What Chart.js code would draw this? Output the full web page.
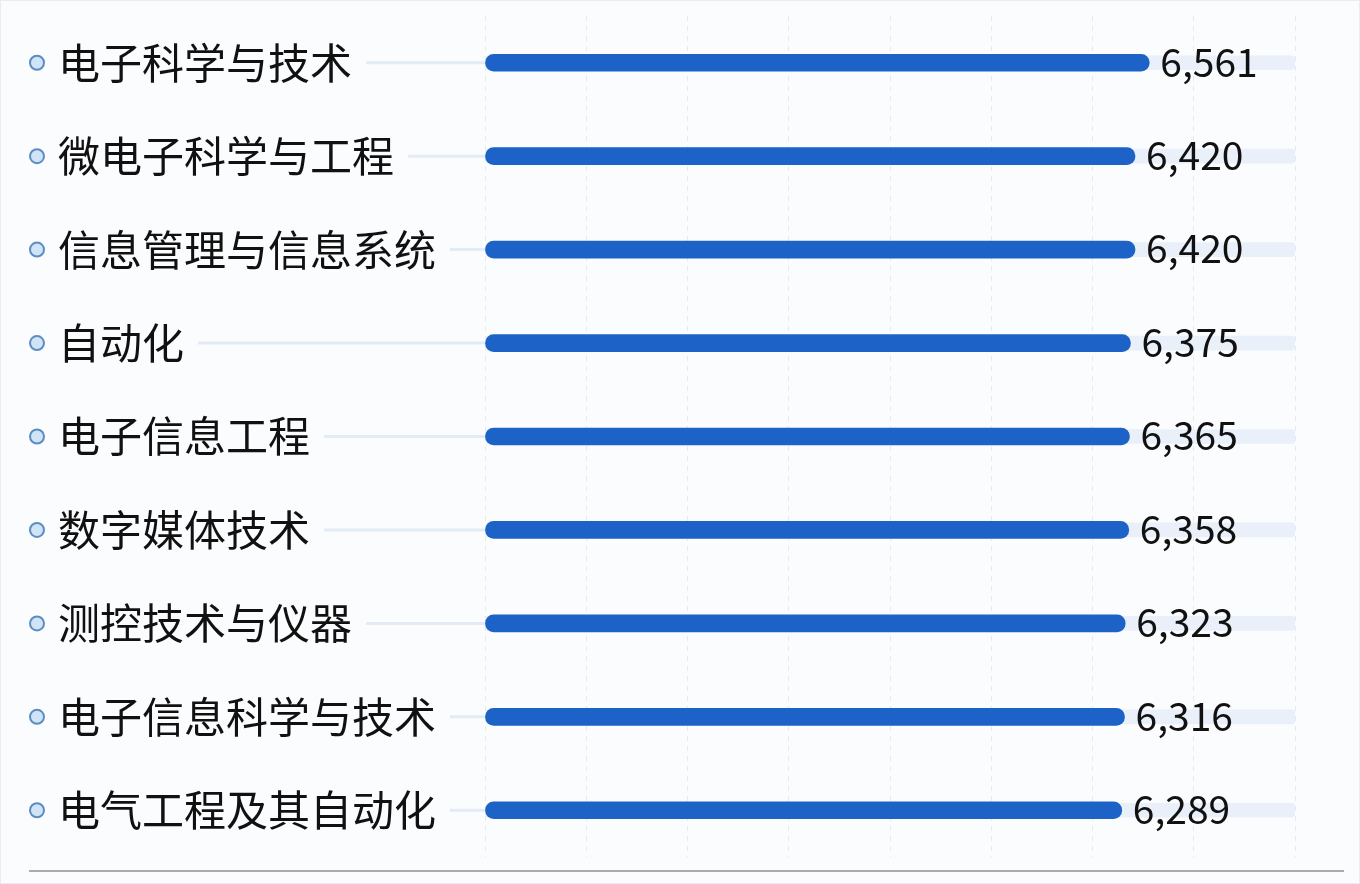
<!DOCTYPE html>
<html>
<head>
<meta charset="utf-8">
<script src="https://cdn.jsdelivr.net/npm/chart.js@4.4.0/dist/chart.umd.min.js"></script>
<style>
  html, body { margin: 0; padding: 0; background: #ffffff; }
  #wrap { position: relative; width: 1360px; height: 884px; background: #fbfcfe; box-sizing: border-box; border: 1px solid #ececf0; overflow: hidden; }
  #c { position: absolute; left: 0; top: 0; }
  #baseline { position: absolute; left: 28px; top: 869px; width: 1315px; height: 2px; background: #a9abb3; }
</style>
</head>
<body>
<div id="wrap">
  <canvas id="c" width="1360" height="884"></canvas>
  <div id="baseline"></div>
</div>
<script>
const categories = ["电子科学与技术", "微电子科学与工程", "信息管理与信息系统", "自动化", "电子信息工程", "数字媒体技术", "测控技术与仪器", "电子信息科学与技术", "电气工程及其自动化"];
const values = [6561, 6420, 6420, 6375, 6365, 6358, 6323, 6316, 6289];
const axisMax = 8000;
const axisStep = 1000;
const trackValues = categories.map(() => axisMax);

const FONT_FAMILY = '"Noto Sans CJK SC", "Noto Sans", sans-serif';
const LABEL_FONT = '42px ' + FONT_FAMILY;
const VALUE_FONT = '39px ' + FONT_FAMILY;

const decorPlugin = {
  id: 'decor',
  beforeDatasetsDraw(chart) {
    const ctx = chart.ctx;
    const y = chart.scales.y;
    const area = chart.chartArea;
    ctx.save();
    ctx.font = LABEL_FONT;
    categories.forEach((c, i) => {
      const py = y.getPixelForValue(i);
      const w = ctx.measureText(c).width;
      ctx.strokeStyle = '#e3ebf5';
      ctx.lineWidth = 3;
      ctx.beginPath();
      ctx.moveTo(y.left + w + 14, py);
      ctx.lineTo(area.left, py);
      ctx.stroke();
      ctx.beginPath();
      ctx.arc(36, py, 7, 0, Math.PI * 2);
      ctx.fillStyle = '#cfe4f8';
      ctx.fill();
      ctx.lineWidth = 2;
      ctx.strokeStyle = '#5d8cc0';
      ctx.stroke();
    });
    ctx.restore();
  },
  afterDatasetsDraw(chart) {
    const ctx = chart.ctx;
    const meta = chart.getDatasetMeta(0);
    ctx.save();
    ctx.font = VALUE_FONT;
    ctx.fillStyle = '#111111';
    ctx.textAlign = 'left';
    ctx.textBaseline = 'middle';
    meta.data.forEach((bar, i) => {
      ctx.fillText(values[i].toLocaleString('en-US'), bar.x + 11, bar.y - 1);
    });
    ctx.restore();
  }
};

new Chart(document.getElementById('c'), {
  type: 'bar',
  data: {
    labels: categories,
    datasets: [
      {
        data: values,
        backgroundColor: '#1c62c7',
        barThickness: 17,
        borderRadius: 9,
        borderSkipped: false,
        grouped: false,
        order: 0
      },
      {
        data: trackValues,
        backgroundColor: '#e9f0fa',
        barThickness: 14,
        borderRadius: 4,
        borderSkipped: false,
        grouped: false,
        order: 1
      }
    ]
  },
  options: {
    indexAxis: 'y',
    responsive: false,
    animation: false,
    devicePixelRatio: 1,
    layout: { padding: { left: 57, right: 66, top: 15, bottom: 28 } },
    plugins: { legend: { display: false }, tooltip: { enabled: false } },
    scales: {
      x: {
        min: 0,
        max: axisMax,
        ticks: { display: false, stepSize: axisStep },
        grid: { color: '#e6e9ee', lineWidth: 1, drawTicks: false },
        border: { display: false, dash: [5, 5] }
      },
      y: {
        ticks: {
          font: { size: 42, family: FONT_FAMILY, lineHeight: 0.6 },
          color: '#111111',
          crossAlign: 'far',
          padding: 0
        },
        grid: { display: false, drawTicks: false },
        border: { display: false },
        afterFit(scale) { scale.width = 427; }
      }
    }
  },
  plugins: [decorPlugin]
});
</script>
</body>
</html>
